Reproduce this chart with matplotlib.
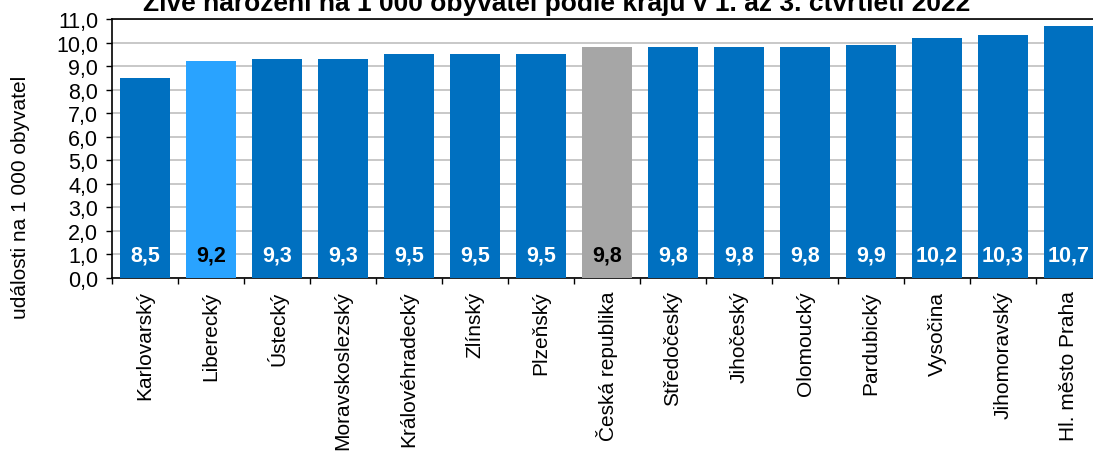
import numpy as np
import matplotlib.pyplot as plt
from matplotlib.ticker import FixedLocator

plt.rcParams['font.family'] = ['Liberation Sans', 'DejaVu Sans']

kraje = ['Karlovarský', 'Liberecký', 'Ústecký', 'Moravskoslezský', 'Královéhradecký',
         'Zlínský', 'Plzeňský', 'Česká republika', 'Středočeský', 'Jihočeský',
         'Olomoucký', 'Pardubický', 'Vysočina', 'Jihomoravský', 'Hl. město Praha']
hodnoty = [8.5, 9.2, 9.3, 9.3, 9.5, 9.5, 9.5, 9.8, 9.8, 9.8, 9.8, 9.9, 10.2, 10.3, 10.7]
y_ticks = np.arange(0, 11.5, 1.0)

# barvy: Liberecký zvýrazněný, ČR šedě
barvy = []
for k in kraje:
    if k == 'Liberecký':
        barvy.append('#29A3FF')
    elif k == 'Česká republika':
        barvy.append('#A6A6A6')
    else:
        barvy.append('#0070C0')

fig = plt.figure(figsize=(10.93, 4.52), dpi=100)
ax = fig.add_axes([112 / 1093, 1 - 279 / 452, 990 / 1093, 259 / 452])

x = np.arange(len(kraje))
ax.bar(x, hodnoty, width=0.76, color=barvy, zorder=3)

for xi, v, k in zip(x, hodnoty, kraje):
    tc = 'black' if k in ('Liberecký', 'Česká republika') else 'white'
    ax.text(xi, 0.97, f"{v:.1f}".replace('.', ','), ha='center', va='center',
            color=tc, fontsize=15.5, fontweight='bold', zorder=4)

ax.set_xlim(-0.5, len(kraje) - 0.5)
ax.set_ylim(0, 11)
ax.set_yticks(y_ticks)
ax.set_yticklabels([f"{t:.1f}".replace('.', ',') for t in y_ticks], fontsize=15.5)
ax.yaxis.grid(True, color='#BFBFBF', linewidth=1.2, zorder=0)
ax.set_axisbelow(True)

ax.set_xticks(x)
ax.set_xticklabels(kraje, rotation=90, fontsize=15)
ax.tick_params(axis='x', which='major', length=0, pad=9)
ax.xaxis.set_minor_locator(FixedLocator(np.arange(-0.5, len(kraje), 1.0)))
ax.tick_params(axis='x', which='minor', length=4.5, width=1)
ax.tick_params(axis='y', length=4.5, width=1, pad=5.5)

for s in ['left', 'bottom', 'top']:
    ax.spines[s].set_color('black')
    ax.spines[s].set_linewidth(1.2)
ax.spines['right'].set_visible(False)

fig.text(21 / 1093, 1 - 197 / 452, 'události na 1 000 obyvatel', rotation=90,
         ha='center', va='center', fontsize=15)
fig.text(557 / 1093, 1 - 11 / 452, 'Živě narození na 1 000 obyvatel podle krajů v 1. až 3. čtvrtletí 2022',
         ha='center', va='baseline', fontsize=19, fontweight='bold')

fig.savefig('out.png', dpi=100)
